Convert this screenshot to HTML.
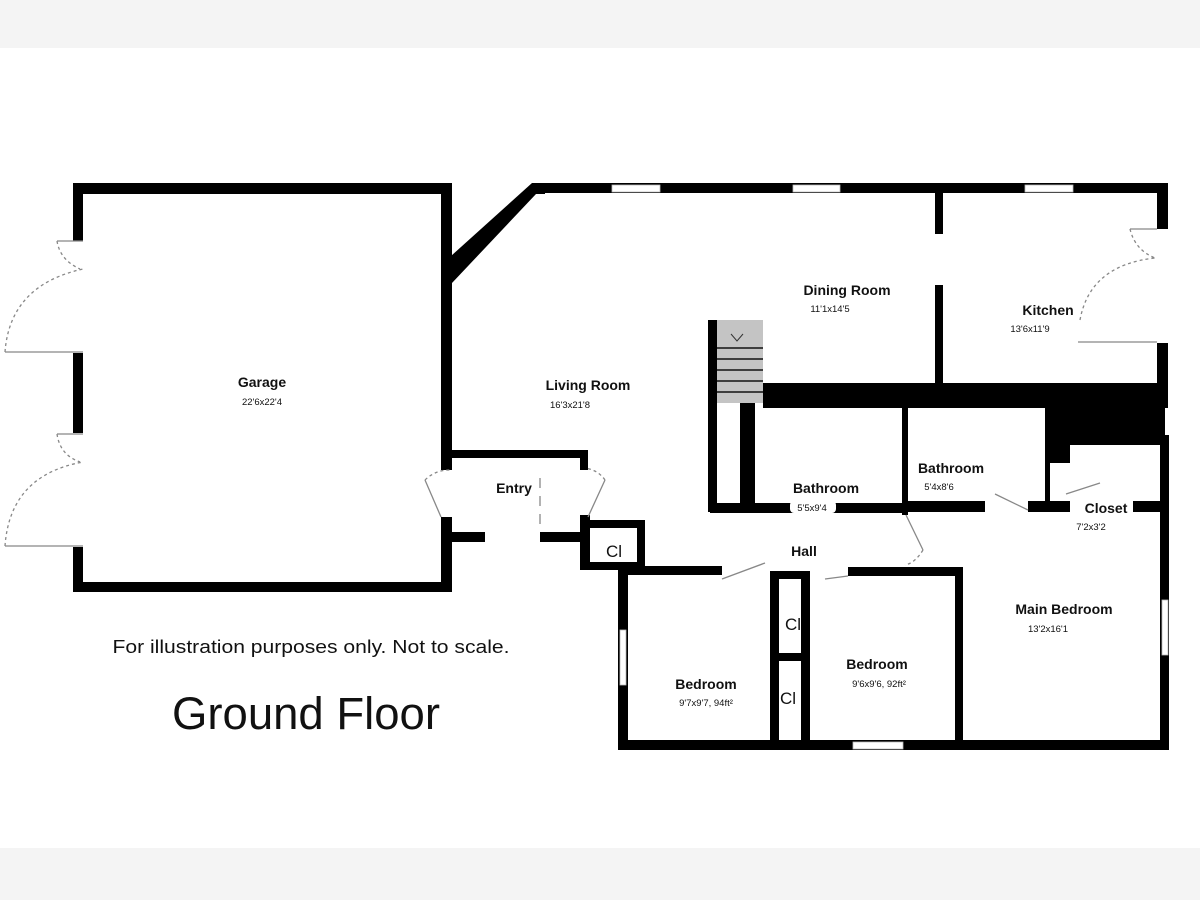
<!DOCTYPE html>
<html><head><style>
html,body{margin:0;padding:0;background:#fff}
body{width:1200px;height:900px;overflow:hidden;position:relative}
.t{font-family:"Liberation Sans",sans-serif;fill:#111}
</style></head><body>
<svg width="1200" height="900" viewBox="0 0 1200 900" xmlns="http://www.w3.org/2000/svg">
<rect x="0" y="0" width="1200" height="48" fill="#f4f4f4"/>
<rect x="0" y="848" width="1200" height="52" fill="#f4f4f4"/>
<g fill="#000">
<rect x="73" y="183" width="379" height="11"/>
<rect x="73" y="183" width="10" height="58"/>
<rect x="73" y="353" width="10" height="80"/>
<rect x="73" y="547" width="10" height="45"/>
<rect x="73" y="582" width="379" height="10"/>
<rect x="441" y="183" width="11" height="287"/>
<rect x="441" y="517" width="11" height="75"/>
<polygon points="441,265 532,183 545,183 545,194 536,194 452,283 441,283"/>
<rect x="532" y="183" width="636" height="10"/>
<rect x="1157" y="183" width="11" height="46"/>
<rect x="1157" y="343" width="11" height="60"/>
<rect x="935" y="190" width="8" height="44"/>
<rect x="935" y="285" width="8" height="118"/>
<rect x="763" y="383" width="405" height="25"/>
<rect x="1045" y="405" width="120" height="40"/>
<rect x="1045" y="440" width="25" height="23"/>
<rect x="1160" y="435" width="9" height="165"/>
<rect x="1160" y="655" width="9" height="95"/>
<rect x="708" y="320" width="9" height="192"/>
<rect x="740" y="403" width="10" height="102"/>
<rect x="710" y="503" width="195" height="10"/>
<rect x="750" y="403" width="5" height="105"/>
<rect x="902" y="408" width="6" height="107"/>
<rect x="905" y="501" width="80" height="11"/>
<rect x="1028" y="501" width="42" height="11"/>
<rect x="1045" y="445" width="5" height="60"/>
<rect x="1133" y="501" width="35" height="11"/>
<rect x="441" y="450" width="147" height="8"/>
<rect x="580" y="450" width="8" height="20"/>
<rect x="441" y="532" width="44" height="10"/>
<rect x="540" y="532" width="48" height="10"/>
<rect x="580" y="515" width="10" height="55"/>
<rect x="580" y="520" width="65" height="8"/>
<rect x="637" y="520" width="8" height="50"/>
<rect x="580" y="562" width="65" height="8"/>
<rect x="618" y="566" width="104" height="9"/>
<rect x="618" y="566" width="10" height="184"/>
<rect x="618" y="740" width="550" height="10"/>
<rect x="770" y="571" width="40" height="8"/>
<rect x="770" y="571" width="9" height="175"/>
<rect x="801" y="571" width="9" height="175"/>
<rect x="770" y="653" width="40" height="8"/>
<rect x="848" y="567" width="115" height="9"/>
<rect x="955" y="567" width="8" height="180"/>
<rect x="1160" y="600" width="9" height="55"/>
</g>
<rect x="717" y="320" width="46" height="83" fill="#c4c4c4"/>
<g stroke="#111" stroke-width="1.5">
<line x1="717" y1="348" x2="763" y2="348"/><line x1="717" y1="359" x2="763" y2="359"/>
<line x1="717" y1="370" x2="763" y2="370"/><line x1="717" y1="381" x2="763" y2="381"/>
<line x1="717" y1="392" x2="763" y2="392"/>
</g>
<polyline points="731,334 737,341 743,334" fill="none" stroke="#333" stroke-width="1"/>
<g fill="none" stroke="#888" stroke-width="1.3">
<line x1="57" y1="241" x2="83" y2="241"/><line x1="5" y1="352" x2="83" y2="352"/>
<path d="M57,241 Q60,260 80,269" stroke-dasharray="3,3"/>
<path d="M5,352 Q10,285 83,269" stroke-dasharray="3,3"/>
<line x1="57" y1="434" x2="83" y2="434"/><line x1="5" y1="546" x2="83" y2="546"/>
<path d="M57,434 Q60,455 80,462" stroke-dasharray="3,3"/>
<path d="M5,546 Q10,475 83,462" stroke-dasharray="3,3"/>
<line x1="1130" y1="229" x2="1157" y2="229"/><line x1="1078" y1="342" x2="1157" y2="342"/>
<path d="M1130,229 Q1135,250 1155,258" stroke-dasharray="3,3"/>
<path d="M1080,320 Q1090,265 1155,258" stroke-dasharray="3,3"/>
<line x1="425" y1="480" x2="441" y2="517"/>
<path d="M425,480 Q435,470 450,470" stroke-dasharray="3,3"/>
<line x1="605" y1="480" x2="588" y2="517"/>
<path d="M605,480 Q598,470 585,468" stroke-dasharray="3,3"/>
<line x1="540" y1="478" x2="540" y2="530" stroke-dasharray="10,8"/>
<line x1="722" y1="579" x2="765" y2="563"/>
<line x1="848" y1="576" x2="825" y2="579"/>
<line x1="995" y1="494" x2="1028" y2="510"/>
<line x1="1066" y1="494" x2="1100" y2="483"/>
<line x1="906" y1="515" x2="923" y2="550"/>
<path d="M923,550 Q915,563 905,565" stroke-dasharray="3,3"/>
</g>
<g fill="#fff" stroke="#bbb" stroke-width="0.8">
<rect x="612" y="185" width="48" height="7"/><rect x="793" y="185" width="47" height="7"/>
<rect x="1025" y="185" width="48" height="7"/><rect x="1162" y="600" width="6" height="55"/>
<rect x="620" y="630" width="6" height="55"/><rect x="853" y="742" width="50" height="7"/>
</g>
<rect x="790" y="501" width="46" height="12" rx="4" fill="#fff"/>
<g class="t" text-anchor="middle">
<text x="262" y="387" font-size="14" font-weight="bold">Garage</text>
<text x="262" y="405" font-size="9.5">22'6x22'4</text>
<text x="588" y="390" font-size="14" font-weight="bold">Living Room</text>
<text x="570" y="408" font-size="9.5">16'3x21'8</text>
<text x="847" y="295" font-size="14" font-weight="bold">Dining Room</text>
<text x="830" y="312" font-size="9.5">11'1x14'5</text>
<text x="1048" y="315" font-size="14" font-weight="bold">Kitchen</text>
<text x="1030" y="332" font-size="9.5">13'6x11'9</text>
<text x="514" y="493" font-size="14" font-weight="bold">Entry</text>
<text x="826" y="493" font-size="14" font-weight="bold">Bathroom</text>
<text x="812" y="511" font-size="9.5">5'5x9'4</text>
<text x="951" y="473" font-size="14" font-weight="bold">Bathroom</text>
<text x="939" y="490" font-size="9.5">5'4x8'6</text>
<text x="1106" y="513" font-size="14" font-weight="bold">Closet</text>
<text x="1091" y="530" font-size="9.5">7'2x3'2</text>
<text x="804" y="556" font-size="14" font-weight="bold">Hall</text>
<text x="614" y="557" font-size="17">Cl</text>
<text x="793" y="630" font-size="17">Cl</text>
<text x="788" y="704" font-size="17">Cl</text>
<text x="1064" y="614" font-size="14" font-weight="bold">Main Bedroom</text>
<text x="1048" y="632" font-size="9.5">13'2x16'1</text>
<text x="877" y="669" font-size="14" font-weight="bold">Bedroom</text>
<text x="879" y="687" font-size="9.5">9'6x9'6, 92ft²</text>
<text x="706" y="689" font-size="14" font-weight="bold">Bedroom</text>
<text x="706" y="706" font-size="9.5">9'7x9'7, 94ft²</text>
<text x="311" y="653" font-size="18" textLength="397" lengthAdjust="spacingAndGlyphs">For illustration purposes only. Not to scale.</text>
<text x="306" y="729" font-size="45" textLength="268" lengthAdjust="spacingAndGlyphs">Ground Floor</text>
</g>
</svg>
</body></html>
